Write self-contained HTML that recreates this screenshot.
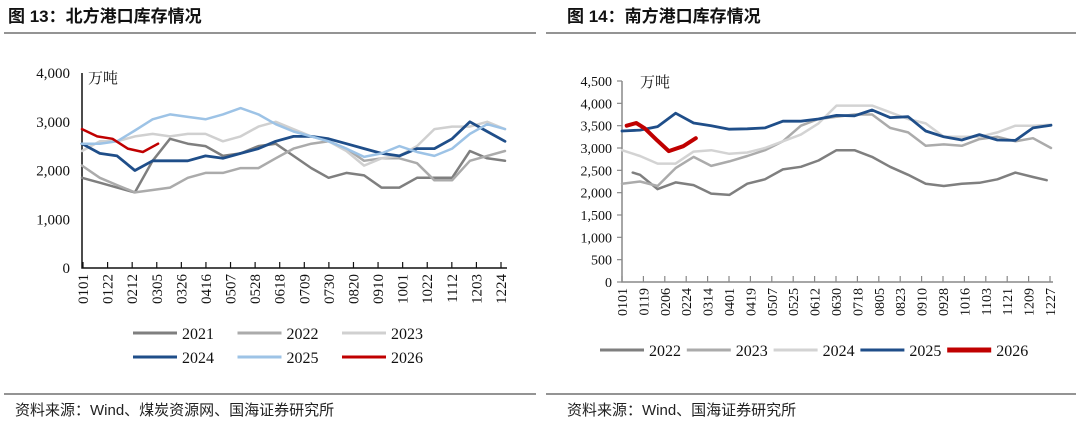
<!DOCTYPE html>
<html><head><meta charset="utf-8"><style>
body{margin:0;width:1080px;height:427px;background:#fff;overflow:hidden;font-family:"Liberation Serif","Noto Serif CJK SC",serif}
svg{position:absolute;left:0;top:0}
</style></head><body>
<svg id="s" width="1080" height="427">
<g font-family="'Liberation Sans','Noto Sans CJK SC',sans-serif" font-weight="bold" font-size="17" fill="#111">
<text x="8" y="22">图 13：北方港口库存情况</text>
<text x="567" y="22">图 14：南方港口库存情况</text>
</g>
<line x1="4" y1="33" x2="536" y2="33" stroke="#555" stroke-width="1.2"/>
<line x1="546" y1="33" x2="1076" y2="33" stroke="#555" stroke-width="1.2"/>
<line x1="4" y1="394" x2="536" y2="394" stroke="#555" stroke-width="1.2"/>
<line x1="546" y1="394" x2="1076" y2="394" stroke="#555" stroke-width="1.2"/>
<g font-family="'Liberation Sans','Noto Sans CJK SC',sans-serif" font-size="15" fill="#222">
<text x="15" y="415">资料来源：Wind、煤炭资源网、国海证券研究所</text>
<text x="567" y="415">资料来源：Wind、国海证券研究所</text>
</g>
<g id="L"></g><g id="R"></g>
</svg>
<script>
const NS="http://www.w3.org/2000/svg";
function el(p,t,a){const e=document.createElementNS(NS,t);for(const k in a)e.setAttribute(k,a[k]);p.appendChild(e);return e;}

// Left chart data (x = fraction of year)
const leftCats=["0101","0122","0212","0305","0326","0416","0507","0528","0618","0709","0730","0820","0910","1001","1022","1112","1203","1224"];
const leftYTicks=[0,1000,2000,3000,4000];
const leftYears=["2021","2022","2023","2024","2025","2026"];
const leftDays=[0,.042,.083,.125,.167,.208,.25,.292,.333,.375,.417,.458,.5,.542,.583,.625,.667,.708,.75,.792,.833,.875,.917,.958,1];
const l2021=[1850,1750,1650,1550,2200,2650,2550,2500,2300,2350,2500,2550,2300,2050,1850,1950,1900,1650,1650,1850,1850,1850,2400,2250,2200];
const l2022=[2100,1850,1700,1550,1600,1650,1850,1950,1950,2050,2050,2250,2450,2550,2600,2450,2200,2250,2250,2150,1800,1800,2200,2300,2400];
const l2023=[2400,2600,2600,2700,2750,2700,2750,2750,2600,2700,2900,3000,2850,2700,2600,2400,2100,2250,2300,2500,2850,2900,2900,3000,2850];
const l2024=[2550,2350,2300,2000,2200,2200,2200,2300,2250,2350,2450,2600,2700,2700,2650,2550,2450,2350,2300,2450,2450,2650,3000,2800,2600];
const l2025=[2550,2550,2600,2820,3050,3150,3100,3050,3150,3280,3150,2950,2800,2700,2600,2450,2280,2350,2500,2380,2300,2450,2750,2950,2850];
const l2026Days=[0,.036,.072,.108,.144,.18];
const l2026=[2850,2700,2650,2450,2380,2550];

// Right chart data
const rightCats=["0101","0119","0206","0224","0314","0401","0419","0507","0525","0612","0630","0718","0805","0823","0910","0928","1016","1103","1121","1209","1227"];
const rightYTicks=[0,500,1000,1500,2000,2500,3000,3500,4000,4500];
const rightYears=["2022","2023","2024","2025","2026"];
const rightDays=[0,.042,.083,.125,.167,.208,.25,.292,.333,.375,.417,.458,.5,.542,.583,.625,.667,.708,.75,.792,.833,.875,.917,.958,1];
const r2022Days=[.025,.042,.083,.125,.167,.208,.25,.292,.333,.375,.417,.458,.5,.542,.583,.625,.667,.708,.75,.792,.833,.875,.917,.958,.99];
const r2022=[2450,2400,2080,2230,2170,1980,1950,2200,2300,2520,2580,2720,2950,2950,2800,2580,2400,2200,2150,2200,2220,2300,2450,2350,2280];
const r2023=[2200,2250,2150,2550,2800,2600,2700,2820,2950,3150,3500,3650,3700,3750,3750,3450,3350,3050,3080,3050,3200,3250,3150,3220,3000];
const r2024=[2950,2820,2650,2650,2920,2950,2870,2900,3000,3150,3300,3550,3950,3950,3950,3800,3650,3550,3250,3250,3250,3350,3500,3500,3520];
const r2025=[3380,3400,3480,3780,3560,3500,3420,3430,3450,3600,3600,3650,3730,3720,3850,3680,3700,3380,3250,3180,3300,3180,3170,3450,3510];
const r2026Days=[.011,.033,.053,.082,.109,.143,.172];
const r2026=[3500,3560,3440,3170,2930,3040,3220];

function chart(g,o){
  const sx=f=>o.x0+f*(o.x1-o.x0), sy=v=>o.y0-(v/o.ymax)*(o.y0-o.yTop);
  const ax=el(g,"path",{d:`M${o.x0} ${sy(o.ymax)}V${o.y0}H${o.xEnd}`,fill:"none",stroke:o.axc,"stroke-width":1.5});
  
  
  o.yt.forEach(v=>{
    const t=el(g,"text",{x:o.x0-(o.ytick?10:12),y:sy(v)+5,"text-anchor":"end","font-size":o.fs,fill:"#111"});
    t.textContent=v.toLocaleString("en-US");
    
    
    if(o.ytick){const l=el(g,"line",{x1:o.x0-5,x2:o.x0,y1:sy(v),y2:sy(v),stroke:o.axc,"stroke-width":1.2});
      
      }
  });
  const n=o.cats.length;
  o.cats.forEach((c,i)=>{
    const x=o.tx0+i*(o.tx1-o.tx0)/(n-1);
    const l=el(g,"line",{x1:x,x2:x,y1:o.y0,y2:o.y0-6,stroke:o.axc,"stroke-width":1.2});
    
    
    const t=el(g,"text",{transform:`translate(${x+5},${o.y0+6}) rotate(-90)`,"text-anchor":"end","font-size":o.fs,fill:"#111"});
    t.textContent=c;
    
    
  });
  const u=el(g,"text",{x:o.ux,y:o.uy,"font-size":15,fill:"#111","font-family":"'Noto Serif CJK SC',serif"});
  u.textContent="万吨";
  
  
  o.series.forEach(s=>{
    const d=s.v.map((v,i)=>(i?"L":"M")+sx(s.d[i]).toFixed(1)+" "+sy(v).toFixed(1)).join("");
    const p=el(g,"path",{d:d,fill:"none",stroke:s.c,"stroke-width":s.w,"stroke-linejoin":"round","stroke-linecap":"round"});
    
    
  });
  o.legend.forEach(L=>{
    const l=el(g,"line",{x1:L.x,x2:L.x+L.len,y1:L.y,y2:L.y,stroke:L.c,"stroke-width":L.w});
    
    
    const t=el(g,"text",{x:L.x+L.len+5,y:L.y+6,"font-size":16,fill:"#111"});
    t.textContent=L.n;
    
    
  });
}
const lc=["#7f7f7f","#ababab","#d0d0d0","#1f4e89","#9dc3e6","#c00000"];
chart(document.getElementById("L"),{id:"left",x0:82,x1:505,xEnd:507,tx0:83,tx1:501,y0:268,yTop:73,ymax:4000,yt:leftYTicks,cats:leftCats,fs:15,axc:"#111",ytick:false,ux:88,uy:83,
  series:[{n:"2021",d:leftDays,v:l2021,c:lc[0],w:2.5},{n:"2022",d:leftDays,v:l2022,c:lc[1],w:2.5},{n:"2023",d:leftDays,v:l2023,c:lc[2],w:2.5},{n:"2024",d:leftDays,v:l2024,c:lc[3],w:2.8},{n:"2025",d:leftDays,v:l2025,c:lc[4],w:2.5},{n:"2026",d:l2026Days,v:l2026,c:lc[5],w:2.5}],
  legend:leftYears.map((y,i)=>({n:y,x:133+(i%3)*104.5,y:i<3?333:357,len:44,c:lc[i],w:3}))});
const rc=["#7f7f7f","#ababab","#d3d3d3","#1f4e89","#c00000"];
chart(document.getElementById("R"),{id:"right",x0:622,x1:1051,xEnd:1053,tx0:622,tx1:1050,y0:282,yTop:81,ymax:4500,yt:rightYTicks,cats:rightCats,fs:14,axc:"#888",ytick:true,ux:640,uy:87,
  series:[{n:"2022",d:r2022Days,v:r2022,c:rc[0],w:2.5},{n:"2023",d:rightDays,v:r2023,c:rc[1],w:2.5},{n:"2024",d:rightDays,v:r2024,c:rc[2],w:2.5},{n:"2025",d:rightDays,v:r2025,c:rc[3],w:2.8},{n:"2026",d:r2026Days,v:r2026,c:rc[4],w:4}],
  legend:rightYears.map((y,i)=>({n:y,x:600+i*86.8,y:350,len:44,c:rc[i],w:i==4?5:3}))});
</script>
</body></html>
